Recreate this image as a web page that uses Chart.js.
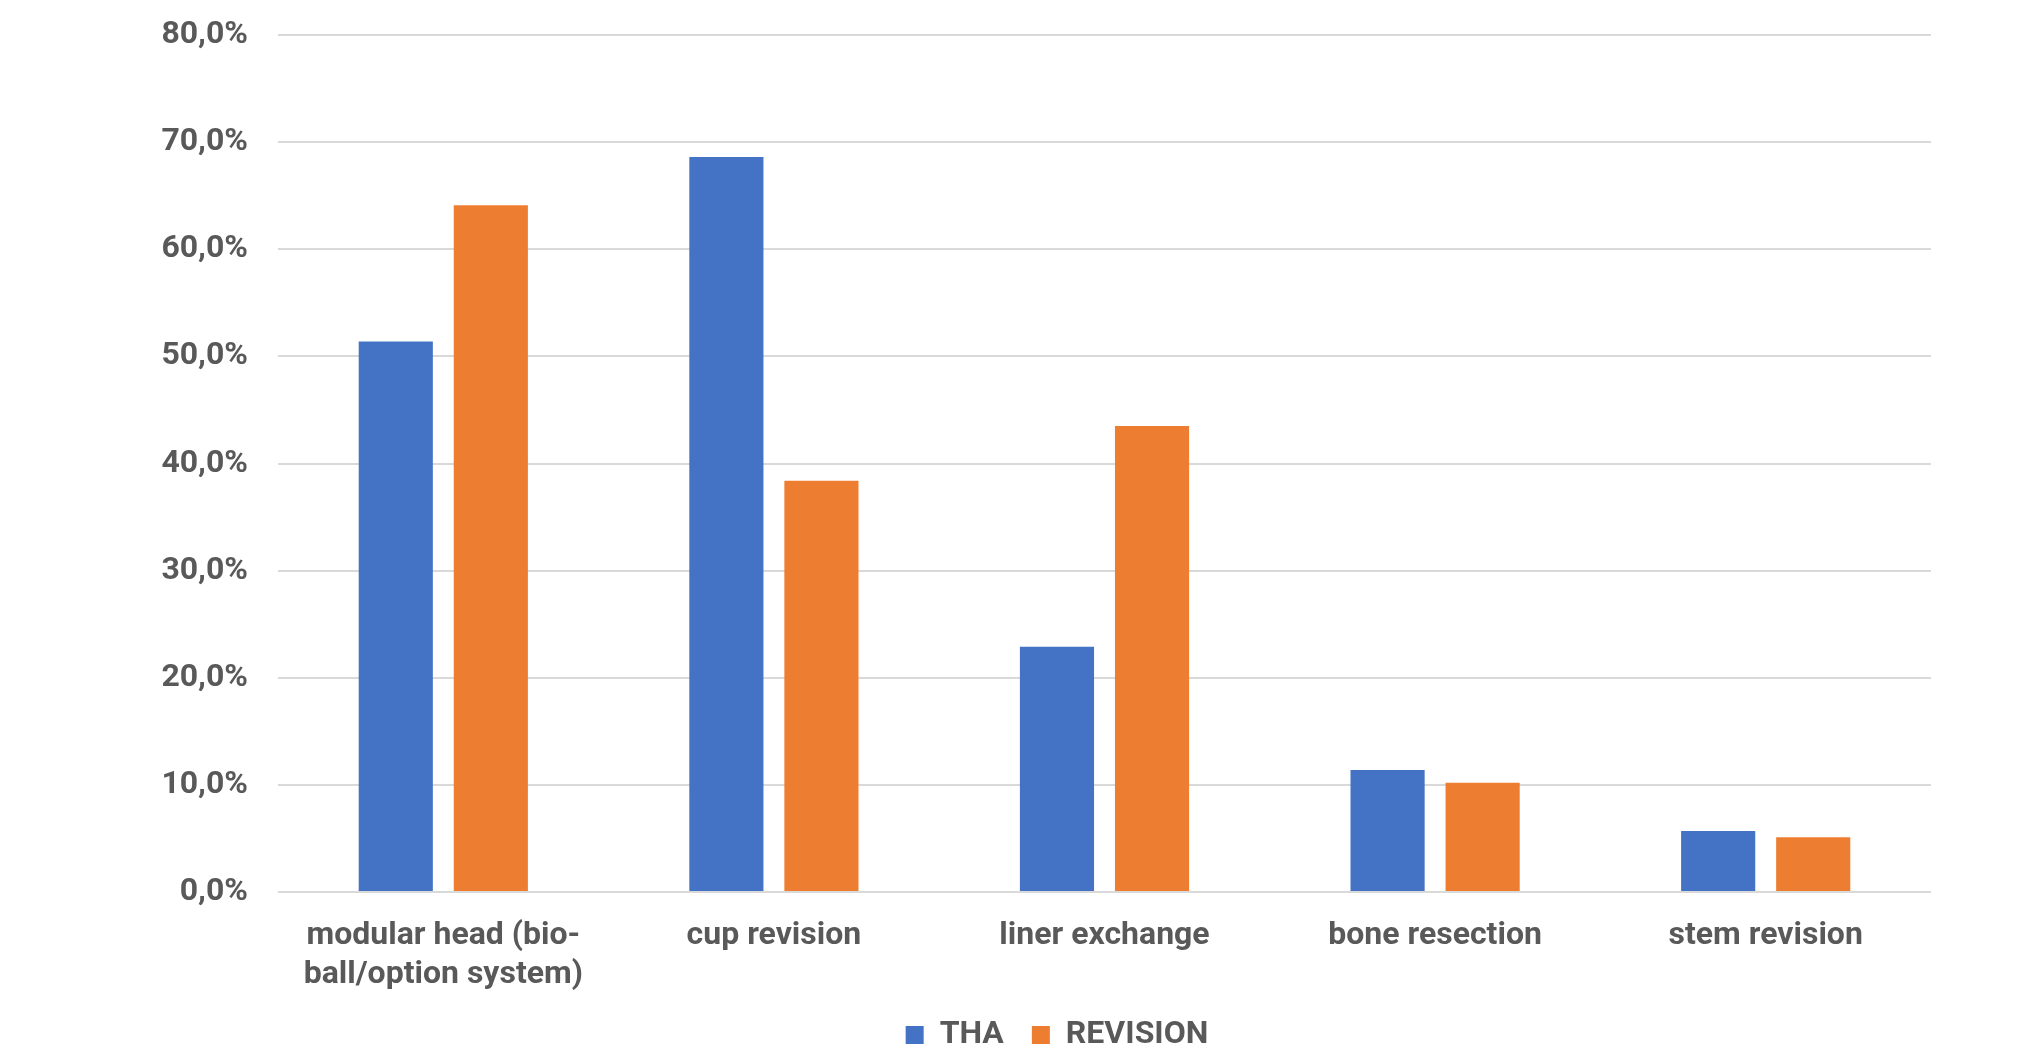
<!DOCTYPE html>
<html>
<head>
<meta charset="utf-8">
<title>THA vs REVISION</title>
<script src="https://cdn.jsdelivr.net/npm/chart.js@4/dist/chart.umd.min.js"></script>
<style>
  html, body { margin: 0; padding: 0; background: #ffffff; }
  #wrap { width: 2035px; height: 1052px; }
</style>
</head>
<body>
<div id="wrap"><canvas id="chart" width="2035" height="1052"></canvas></div>
<script>
// Procedure categories (multi-line labels are arrays)
const categories = [
  ['modular head (bio-', 'ball/option system)'],
  'cup revision',
  'liner exchange',
  'bone resection',
  'stem revision'
];

// Share of cases per procedure, in percent
const thaValues      = [51.4, 68.6, 22.9, 11.4, 5.7];
const revisionValues = [64.1, 38.4, 43.5, 10.2, 5.1];

// Y-axis tick labels, from 0 % to 80 % in steps of 10
const yTickLabels = ['0,0%', '10,0%', '20,0%', '30,0%', '40,0%', '50,0%', '60,0%', '70,0%', '80,0%'];

const textColor = '#595959';
const gridColor = '#d9d9d9';
const font = { family: 'Roboto', weight: 'bold', size: 32 };

// Horizontal centre of the legend row
const LEGEND_CENTER_X = 1057;

// Moves the legend row sideways so it sits under the given centre
const legendCenter = {
  id: 'legendCenter',
  afterLayout(chart) {
    const lg = chart.legend;
    if (!lg) return;
    const shift = LEGEND_CENTER_X - (lg.left + lg.right) / 2;
    lg.left += shift;
    lg.right += shift;
  }
};

new Chart(document.getElementById('chart'), {
  type: 'bar',
  data: {
    labels: categories,
    datasets: [
      {
        label: 'THA',
        data: thaValues,
        backgroundColor: '#4472c4',
        categoryPercentage: 0.575,
        barPercentage: 0.78
      },
      {
        label: 'REVISION',
        data: revisionValues,
        backgroundColor: '#ed7d31',
        categoryPercentage: 0.575,
        barPercentage: 0.78
      }
    ]
  },
  plugins: [legendCenter],
  options: {
    responsive: false,
    animation: false,
    layout: { padding: { left: 150, right: 104, top: 35, bottom: -9 } },
    plugins: {
      tooltip: { enabled: false },
      legend: {
        position: 'bottom',
        labels: {
          color: textColor,
          font: font,
          boxWidth: 18,
          boxHeight: 18,
          padding: 28
        }
      }
    },
    scales: {
      x: {
        grid: { display: false },
        border: { display: false },
        ticks: {
          color: textColor,
          font: font,
          padding: 17,
          maxRotation: 0,
          autoSkip: false
        },
        afterFit: (scale) => { scale.height = 99; }
      },
      y: {
        min: 0,
        max: 80,
        border: { display: false },
        grid: { color: gridColor, lineWidth: 2, drawTicks: false },
        ticks: {
          stepSize: 10,
          color: textColor,
          font: font,
          padding: 30,
          callback: (value) => yTickLabels[Math.round(value / 10)]
        },
        afterFit: (scale) => {
          scale.width = 128;
          // labels may overhang the plot area vertically; the outer padding covers it
          scale.paddingTop = 0;
          scale.paddingBottom = 0;
        }
      }
    }
  }
});
</script>
</body>
</html>
